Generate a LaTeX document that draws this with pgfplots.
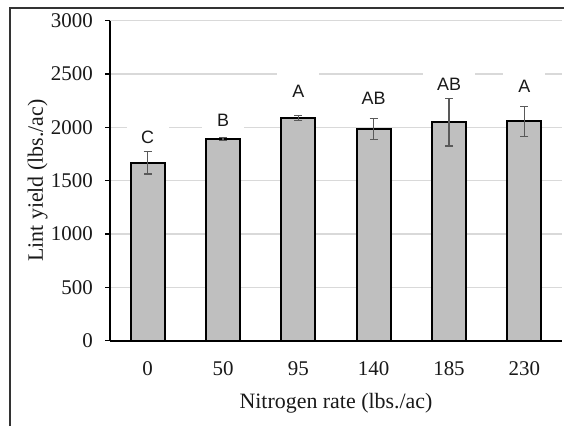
\documentclass[border=0pt]{standalone}
\usepackage{pgfplots}
\usepackage{pgfplotstable}
\pgfplotsset{compat=1.18}
\usepackage{fontspec}
\setmainfont{Liberation Serif}
\newfontfamily\arialf{Liberation Sans}
\pgfplotstableread{
x y lab h
0 1907 C 24
1 2069 B 24
2 2341 A 37
3 2269 AB 24
4 2407 AB 24
5 2381 A 28
}\letters
\begin{document}
\begin{tikzpicture}[x=1bp,y=1bp]
\path[use as bounding box] (0,0) rectangle (564,426);
\draw[line width=2bp, black!80] (10,0) -- (10,418) -- (564,418);
\begin{axis}[
  at={(110bp,85.3bp)}, anchor=south west,
  scale only axis, width=452bp, height=320bp,
  xmin=-0.5, xmax=5.5, ymin=0, ymax=3000,
  axis lines*=left,
  axis line style={line width=1.6bp, black},
  xtick={0,1,2,3,4,5},
  xticklabels={0,50,95,140,185,230},
  ytick={0,500,1000,1500,2000,2500,3000},
  xtick style={draw=none},
  ytick style={line width=1.3bp, black},
  tick align=outside,
  major tick length=5bp,
  ymajorgrids,
  grid style={line width=1.3bp, black!15},
  /pgf/number format/assume math mode=true,
  /pgf/number format/1000 sep={},
  tick label style={font=\fontsize{21}{25}\selectfont, text=black!90},
  xticklabel style={anchor=center, yshift=-23bp},
  yticklabel style={anchor=east, inner sep=0pt, xshift=-12bp},
  xlabel={Nitrogen rate (lbs./ac)},
  ylabel={Lint yield (lbs./ac)},
  label style={font=\fontsize{22}{26}\selectfont, text=black!90},
  xlabel style={at={(axis description cs:0.5,-0.195)}, anchor=center},
  ylabel style={at={(axis description cs:-0.16,0.5)}, anchor=center},
  clip=false,
]
% bars with error bars
\addplot[ybar, bar width=34bp, fill=black!25, draw=black, line width=1.8bp,
  error bars/.cd, y dir=both, y explicit,
  error bar style={line width=1.2bp, black!65},
  error mark options={rotate=90, mark size=4bp, line width=1.2bp, black!65}]
  coordinates {
    (0,1668) +- (0,105)
    (1,1892) +- (0,12)
    (2,2087) +- (0,25)
    (3,1985) +- (0,101)
    (4,2050) +- (0,224)
    (5,2058) +- (0,140)
  };
% significance letters (white label boxes as in the original)
\addplot[draw=none, mark=none, nodes near coords, point meta=explicit symbolic,
  visualization depends on={\thisrow{h} \as \boxh},
  nodes near coords style={font=\arialf\fontsize{18}{20}\selectfont, text=black!90,
    fill=white, anchor=center, inner xsep=14bp, inner ysep=0pt,
    minimum width=42bp, minimum height=\boxh bp}]
  table[x=x, y=y, meta=lab] {\letters};
\end{axis}
\end{tikzpicture}
\end{document}
